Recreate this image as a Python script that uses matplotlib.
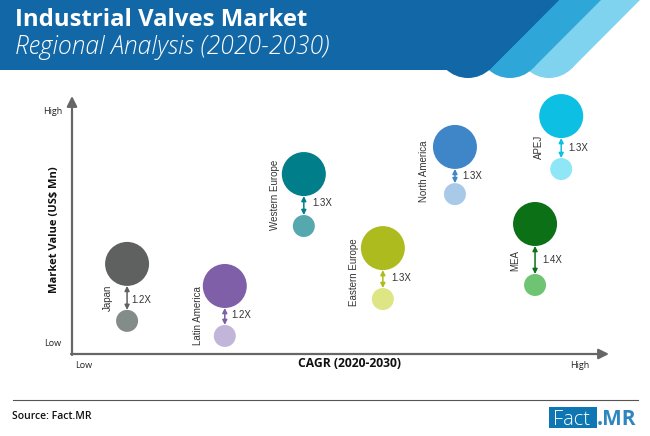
#!/usr/bin/env python3

import matplotlib
matplotlib.use("Agg")
import matplotlib.pyplot as plt
from matplotlib.patches import Circle, Polygon, Rectangle

plt.rcParams['font.family'] = ['Open Sans', 'DejaVu Sans']

W, H = 650, 436

# Chart data, both axes read as percent of axis length
regions = ["Japan", "Latin America", "Western Europe", "Eastern Europe",
           "North America", "MEA", "APEJ"]
cagr = [10.5, 28.8, 43.6, 58.4, 71.9, 86.9, 91.8]
value_2030 = [34.7, 25.9, 70.5, 41.0, 81.3, 50.6, 93.6]
value_2020 = [12.0, 6.0, 49.8, 20.7, 62.5, 26.3, 72.5]
multiples = ["1.2X", "1.2X", "1.3X", "1.3X", "1.3X", "1.4X", "1.3X"]

dark_colors = ["#5f6060", "#7f5fa8", "#007f8a", "#adbb1e", "#3f86c9", "#0b7016", "#0dbfe2"]
light_colors = ["#838c88", "#c2b5da", "#55a8ad", "#dde585", "#a9c9e8", "#6fc473", "#8fe6f7"]

# Pixel placement of the region names and multiples
name_pos = [(108, 298), (198, 316), (275, 195), (354, 272), (424, 171), (515, 260), (539, 147)]
mult_pos = [(141, 300), (241, 315), (322, 203), (401, 278), (472, 176), (552, 260), (578, 148)]

BIG_D = 44
SMALL_D = 22
PT = 0.72  # points per pixel at dpi 100
LABEL_FONT = ['Liberation Sans', 'DejaVu Sans']

fig = plt.figure(figsize=(W / 100, H / 100), dpi=100)

# Overlay in pixel coordinates for banner, axes arrows and text
bg = fig.add_axes([0, 0, 1, 1])
bg.set_xlim(0, W)
bg.set_ylim(H, 0)
bg.axis("off")

# Header bands, each ends in a round cap
bands = [(549, "#7fd3ee"), (510, "#2ea7d8"), (468, "#1268a6")]
for cx, color in bands:
    top = cx + 91
    bg.add_patch(Polygon([(0, 0), (top, 0), (cx + 22.6, 68.6), (cx + 22.6, 46), (0, 46)],
                         color=color, lw=0))
    bg.add_patch(Circle((cx, 46), 32, color=color, lw=0))
bg.add_patch(Polygon([(0, 0), (559, 0), (490.6, 68.6), (489, 70), (0, 70)], color="#1268a6", lw=0))

bg.text(15, 20, "Industrial Valves Market", color="white", fontsize=17.2, fontweight="bold",
        va="center", ha="left")
bg.text(15, 48, "Regional Analysis (2020-2030)", color="white", fontsize=17.7, style="italic",
        fontweight="light", va="center", ha="left")

# Axes lines
axis_color = "#666666"
arrow_style = dict(arrowstyle="-|>", color=axis_color, lw=1.6, shrinkA=0, shrinkB=0, mutation_scale=15)
bg.annotate("", xy=(72, 96), xytext=(72, 355), arrowprops=arrow_style)
bg.annotate("", xy=(609, 354), xytext=(71, 354), arrowprops=arrow_style)

bg.text(53, 111, "High", fontsize=6.5, ha="center", va="center", color="#222222")
bg.text(53, 343, "Low", fontsize=6.5, ha="center", va="center", color="#222222")
bg.text(84, 365, "Low", fontsize=6.5, ha="center", va="center", color="#222222")
bg.text(580, 365, "High", fontsize=6.5, ha="center", va="center", color="#222222")
bg.text(55, 230, "Market Value (US$ Mn)", fontsize=8, fontweight="bold", rotation=90,
        ha="center", va="center", color="#111111")
bg.text(349, 363, "CAGR (2020-2030)", fontsize=8.7, fontweight="bold",
        ha="center", va="center", color="#111111")

for name, (x, y) in zip(regions, name_pos):
    bg.text(x, y, name, fontsize=7, rotation=90, ha="center", va="center", color="#333333",
            family=LABEL_FONT)
for mult, (x, y) in zip(multiples, mult_pos):
    bg.text(x, y, mult, fontsize=7, ha="center", va="center", color="#333333", family=LABEL_FONT)

# Footer
bg.plot([13, 638], [400, 400], color="#555555", lw=0.8)
bg.text(12, 416, "Source: Fact.MR", fontsize=7.5, fontweight="semibold", ha="left", va="center",
        color="#111111")
bg.add_patch(Rectangle((549, 407), 48, 21, color="#0f76b4", lw=0))
bg.text(553, 425, "Fact", fontsize=14.5, color="white", fontweight="light", ha="left", va="baseline")
bg.text(597, 425, ".MR", fontsize=15, color="#2e86c1", fontweight="bold", ha="left", va="baseline")

# Bubble plot area: origin at (71, 351), 534 x 251 px
ax = fig.add_axes([71 / W, (H - 351) / H, 534 / W, 251 / H])
ax.set_xlim(0, 100)
ax.set_ylim(0, 100)
ax.axis("off")
ax.patch.set_alpha(0)

ax.scatter(cagr, value_2030, s=(BIG_D * PT) ** 2, c=dark_colors, linewidths=0, zorder=3, clip_on=False)
ax.scatter(cagr, value_2020, s=(SMALL_D * PT) ** 2, c=light_colors, linewidths=0, zorder=3, clip_on=False)

for x, hi, lo, col in zip(cagr, value_2030, value_2020, dark_colors):
    ax.annotate("", xy=(x, lo), xytext=(x, hi),
                arrowprops=dict(arrowstyle="<|-|>", color=col, lw=1.1, mutation_scale=7,
                                shrinkA=BIG_D / 2 * PT, shrinkB=SMALL_D / 2 * PT),
                zorder=2)

fig.savefig("out.png", dpi=100)
